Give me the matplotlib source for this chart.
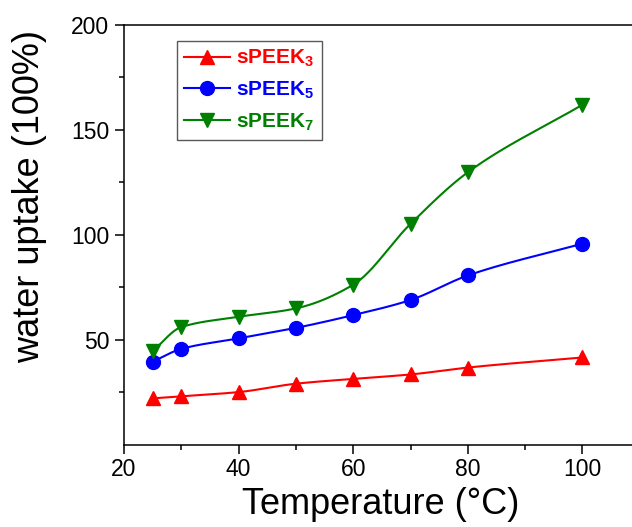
import numpy as np
import matplotlib
matplotlib.use("Agg")
import matplotlib.pyplot as plt
from matplotlib.ticker import MultipleLocator, FixedLocator

plt.rcParams['font.family'] = ['Liberation Sans', 'DejaVu Sans']
plt.rcParams['mathtext.fontset'] = 'custom'
plt.rcParams['mathtext.rm'] = 'Liberation Sans'
plt.rcParams['mathtext.bf'] = 'Liberation Sans:bold'

# water uptake vs temperature
temperature = [25, 30, 40, 50, 60, 70, 80, 100]
speek3 = [22, 23, 25, 29, 31.3, 33.4, 36.7, 41.5]
speek5 = [39.5, 45.6, 50.6, 55.6, 61.7, 68.9, 80.6, 95.8]
speek7 = [44.5, 56, 60.9, 64.9, 76.2, 105.2, 129.8, 162]

labels = [r'$\mathbf{sPEEK_3}$', r'$\mathbf{sPEEK_5}$', r'$\mathbf{sPEEK_7}$']
colors = ['#ff0000', '#0000ff', '#008000']
markers = ['^', 'o', 'v']


def smooth(x, y, n=300):
    # monotone cubic (Fritsch-Carlson) curve through the points
    x = np.asarray(x, float)
    y = np.asarray(y, float)
    h = np.diff(x)
    d = np.diff(y) / h
    k = len(x)
    m = np.zeros(k)
    for i in range(1, k - 1):
        if d[i - 1] * d[i] > 0:
            w1 = 2 * h[i] + h[i - 1]
            w2 = h[i] + 2 * h[i - 1]
            m[i] = (w1 + w2) / (w1 / d[i - 1] + w2 / d[i])
    # end slopes follow the end segments
    m[0] = d[0]
    m[-1] = d[-1]
    xs = np.linspace(x[0], x[-1], n)
    j = np.clip(np.searchsorted(x, xs) - 1, 0, k - 2)
    t = (xs - x[j]) / h[j]
    h00 = 2 * t ** 3 - 3 * t ** 2 + 1
    h10 = t ** 3 - 2 * t ** 2 + t
    h01 = -2 * t ** 3 + 3 * t ** 2
    h11 = t ** 3 - t ** 2
    ys = h00 * y[j] + h10 * h[j] * m[j] + h01 * y[j + 1] + h11 * h[j] * m[j + 1]
    return xs, ys


fig = plt.figure(figsize=(6.32, 5.27), dpi=100)
ax = fig.add_axes([0.1962, 0.1565, 0.816, 0.796])

for ys, lab, c, m in zip([speek3, speek5, speek7], labels, colors, markers):
    sx, sy = smooth(temperature, ys)
    ax.plot(sx, sy, color=c, lw=1.5)
    ax.plot(temperature, ys, linestyle='none', marker=m, color=c, ms=10)
    ax.plot([], [], color=c, lw=1.5, marker=m, ms=10, label=lab)

ax.set_xlim(20, 110)
ax.set_ylim(0, 200)
ax.xaxis.set_major_locator(MultipleLocator(20))
ax.xaxis.set_minor_locator(MultipleLocator(10))
ax.yaxis.set_major_locator(FixedLocator([50, 100, 150, 200]))
ax.yaxis.set_minor_locator(FixedLocator([25, 75, 125, 175]))

ax.tick_params(which='both', direction='out', width=1.1, labelsize=16.5,
               top=False, right=False)
ax.tick_params(which='major', length=6.5)
ax.tick_params(which='minor', length=3.4)
ax.tick_params(axis='y', pad=4)
ax.tick_params(axis='x', pad=3)
for s in ax.spines.values():
    s.set_linewidth(1.1)
ax.spines['right'].set_visible(False)

ax.set_xlabel('Temperature (°C)', fontsize=26)
ax.set_ylabel('water uptake (100%)', fontsize=26)
ax.xaxis.set_label_coords(0.498, -0.101)
ax.yaxis.set_label_coords(-0.149, 0.591)

leg = ax.legend(loc='upper left', bbox_to_anchor=(0.102, 0.963), borderaxespad=0,
                fontsize=15, fancybox=False, handlelength=2.2, handletextpad=0.3,
                labelspacing=0.5, borderpad=0.35, framealpha=1)
leg.get_frame().set_edgecolor('0.35')
leg.get_frame().set_linewidth(1.0)
for txt, c in zip(leg.get_texts(), colors):
    txt.set_color(c)

fig.savefig('out.png', dpi=100)
